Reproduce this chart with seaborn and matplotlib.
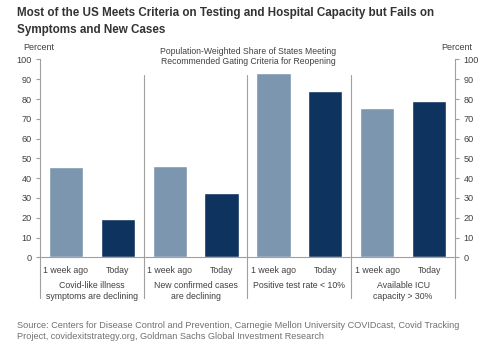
import matplotlib
matplotlib.use("Agg")
import matplotlib.pyplot as plt
import seaborn as sns
import pandas as pd

criteria = ["Covid-like illness\nsymptoms are declining",
            "New confirmed cases\nare declining",
            "Positive test rate < 10%",
            "Available ICU\ncapacity > 30%"]
periods = ["1 week ago", "Today"]
week_ago = [45.5, 46.2, 93.0, 75.6]
today = [19.5, 32.7, 83.9, 79.0]
yticks = [0, 10, 20, 30, 40, 50, 60, 70, 80, 90, 100]

title_lines = ["Most of the US Meets Criteria on Testing and Hospital Capacity but Fails on",
               "Symptoms and New Cases"]
subtitle = "Population-Weighted Share of States Meeting\nRecommended Gating Criteria for Reopening"
source = ("Source: Centers for Disease Control and Prevention, Carnegie Mellon University COVIDcast, Covid Tracking\n"
          "Project, covidexitstrategy.org, Goldman Sachs Global Investment Research")

rows = []
for i, c in enumerate(criteria):
    rows.append({"slot": f"{i}a", "period": periods[0], "value": week_ago[i]})
    rows.append({"slot": f"{i}b", "period": periods[1], "value": today[i]})
df = pd.DataFrame(rows)

sns.set_theme(style="white")
plt.rcParams["font.family"] = ["Liberation Sans", "DejaVu Sans"]

fig = plt.figure(figsize=(5.0, 3.52), dpi=100)
ax = fig.add_axes([0.08, 0.269, 0.83, 0.562])

light = "#7D96AF"
dark = "#0D335E"
sns.barplot(data=df, x="slot", y="value", hue="period", dodge=False,
            palette={periods[0]: light, periods[1]: dark}, width=0.66,
            legend=False, ax=ax, saturation=1)

ax.set_xlim(-0.5, 7.5)
ax.set_ylim(0, 100)
ax.set_yticks(yticks)
ax.set_xlabel("")
ax.set_ylabel("")
grey = "#A0A0A0"
txt = "#404040"
ax.set_xticks(range(8))
ax.set_xticklabels([periods[0], periods[1]] * 4, fontsize=6.3, color=txt)
ax.tick_params(axis="x", length=0, pad=6)
ax.tick_params(axis="y", labelsize=6.6, colors=txt, length=3, width=0.8,
               color=grey, left=True, right=True, labelleft=True, labelright=True, pad=3)
ax.spines["top"].set_visible(False)
for s in ["left", "right", "bottom"]:
    ax.spines[s].set_color(grey)
    ax.spines[s].set_linewidth(0.8)

trans = ax.get_xaxis_transform()
for x in [-0.5, 7.5]:
    ax.plot([x, x], [0, -0.206], transform=trans, color=grey, lw=0.8, clip_on=False)
for x in [1.5, 3.5, 5.5]:
    ax.plot([x, x], [0.922, -0.206], transform=trans, color=grey, lw=0.8, clip_on=False)

for i, c in enumerate(criteria):
    ax.text(2 * i + 0.5, -0.118, c, transform=trans, ha="center", va="top",
            fontsize=6.3, color=txt, linespacing=1.3)

fig.text(0.034, 1 - 13 / 352, title_lines[0], ha="left", va="center", fontsize=8.4,
         fontweight="bold", color="#333333")
fig.text(0.034, 1 - 30 / 352, title_lines[1], ha="left", va="center", fontsize=8.4,
         fontweight="bold", color="#333333")
fig.text(0.496, 1 - 56.5 / 352, subtitle, ha="center", va="center", fontsize=6.2, color=txt,
         linespacing=1.15)
fig.text(0.078, 1 - 47 / 352, "Percent", ha="center", va="center", fontsize=6.5, color=txt)
fig.text(0.914, 1 - 47 / 352, "Percent", ha="center", va="center", fontsize=6.5, color=txt)
fig.text(0.034, 1 - 331 / 352, source, ha="left", va="center", fontsize=6.6, color="#707070",
         linespacing=1.2)

fig.savefig("out.png", dpi=100, facecolor="white")
